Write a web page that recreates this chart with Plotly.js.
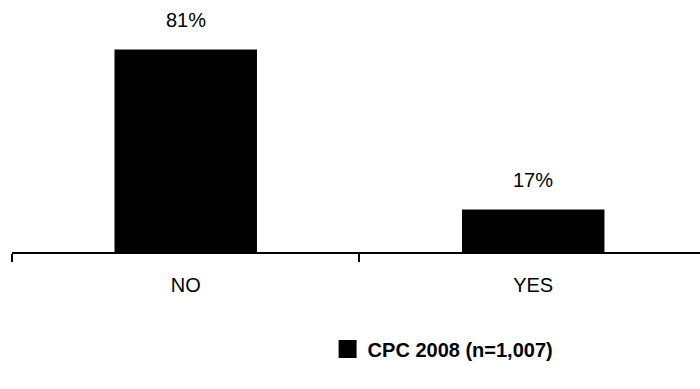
<!DOCTYPE html>
<html>
<head>
<meta charset="utf-8">
<script src="https://cdn.plot.ly/plotly-3.0.1.min.js"></script>
<style>
html,body{margin:0;padding:0;background:#fff;}
#chart{width:700px;height:389px;}
</style>
</head>
<body>
<div id="chart"></div>
<script>
const categories = ["NO", "YES"];
const values = [81, 17];
const labels = ["81%", "17%"];
const seriesName = "CPC 2008 (n=1,007)";

const FONT = "Arial, 'Liberation Sans', sans-serif";

const trace = {
  type: "bar",
  x: categories,
  y: values,
  name: seriesName,
  width: 0.41,
  marker: {color: "#000000", line: {width: 0}},
  showlegend: true,
  hoverinfo: "skip"
};

const annotations = categories.map((c, i) => ({
  x: c, y: values[i], xref: "x", yref: "y",
  text: labels[i], showarrow: false,
  yanchor: "bottom", yshift: 17,
  font: {family: FONT, size: 20, color: "#000"}
}));

const layout = {
  width: 700, height: 389,
  margin: {l: 12, r: 0, t: 2, b: 137},
  paper_bgcolor: "#fff", plot_bgcolor: "#fff",
  font: {family: FONT, color: "#000"},
  xaxis: {
    type: "category",
    range: [-0.5, 1.48],
    showline: true, linecolor: "#000", linewidth: 2,
    ticks: "outside", tickson: "boundaries", ticklen: 8, tickwidth: 2, tickcolor: "#000",
    ticklabelstandoff: 14,
    tickfont: {family: FONT, size: 20, color: "#000"},
    showgrid: false, zeroline: false
  },
  yaxis: {
    range: [0, 100],
    visible: false, showgrid: false, zeroline: false
  },
  showlegend: true,
  legend: {
    orientation: "h",
    xref: "container", yref: "container",
    x: 0.633, xanchor: "center",
    y: 0.103, yanchor: "middle",
    font: {family: FONT, size: 20, color: "#000", weight: "bold"},
    bgcolor: "rgba(0,0,0,0)"
  },
  annotations: annotations
};

const gd = document.getElementById("chart");
function enlargeLegendSymbol() {
  gd.querySelectorAll(".legendpoints path").forEach(p => {
    p.setAttribute("d", "M9,9H-9V-9H9Z");
    p.style.fill = "#000";
    p.style.strokeWidth = "0";
  });
}
Plotly.newPlot(gd, [trace], layout, {displayModeBar: false, staticPlot: true}).then(() => {
  enlargeLegendSymbol();
  gd.on("plotly_afterplot", enlargeLegendSymbol);
});
</script>
</body>
</html>
